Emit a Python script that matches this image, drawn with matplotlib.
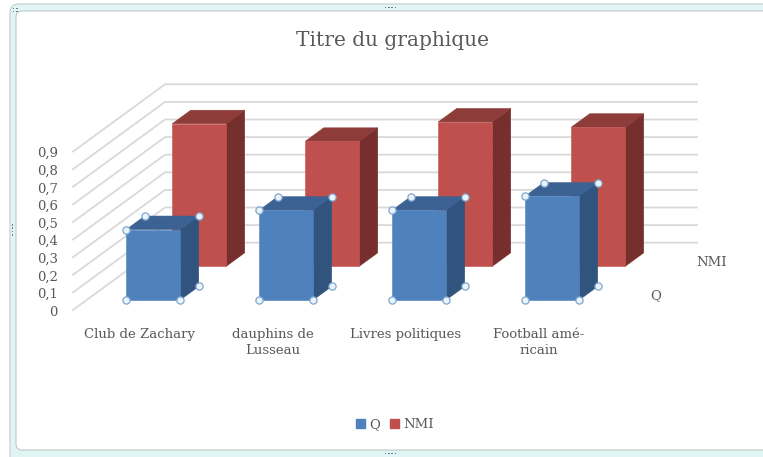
import matplotlib.pyplot as plt
from matplotlib.patches import Polygon, FancyBboxPatch, Patch

# Data
categories = ['Club de Zachary', 'dauphins de\nLusseau', 'Livres politiques', 'Football amé-\nricain']
series_names = ['Q', 'NMI']
q_values = [0.40, 0.51, 0.51, 0.59]
nmi_values = [0.81, 0.71, 0.82, 0.79]
yticks = [0.0, 0.1, 0.2, 0.3, 0.4, 0.5, 0.6, 0.7, 0.8, 0.9]

# Colours (front, top, side)
blue = ('#4F81BD', '#3B6292', '#30547E')
red = ('#C0504D', '#8E3C39', '#772F2D')
text_col = '#595959'
grid_col = '#D9D9D9'

W, H = 763, 457
fig = plt.figure(figsize=(W / 100, H / 100), dpi=100)

# Selection frame around the chart area (pixel coordinates)
bg = fig.add_axes([0, 0, 1, 1])
bg.set_xlim(0, W)
bg.set_ylim(H, 0)
bg.axis('off')
bg.add_patch(FancyBboxPatch((10, 4), 800, 500, boxstyle='round,pad=0,rounding_size=9',
                            facecolor='#E2F5F5', edgecolor='#C4CCCC', lw=0.8))
bg.add_patch(FancyBboxPatch((16, 11), 800, 439, boxstyle='round,pad=0,rounding_size=6',
                            facecolor='white', edgecolor='#BFC8C8', lw=0.8))
for k in range(4):
    bg.add_patch(plt.Rectangle((384.5 + 3.4 * k, 6.5), 1.6, 1.6, color='#6E7C88', lw=0))
    bg.add_patch(plt.Rectangle((384.5 + 3.4 * k, 452.5), 1.6, 1.6, color='#6E7C88', lw=0))
    bg.add_patch(plt.Rectangle((11.8, 224 + 3.4 * k), 1.6, 1.6, color='#6E7C88', lw=0))
for dx in (0, 3.4):
    for dy in (0, 3.4):
        bg.add_patch(plt.Rectangle((12.5 + dx, 7.5 + dy), 1.6, 1.6, color='#6E7C88', lw=0))

# Chart axes: x in category units, y in value units on the front plane
X0, CAT, Y0, VS = 73, 133, 310, 176
ax = fig.add_axes([0, 0, 1, 1], zorder=1)
ax.patch.set_alpha(0)
ax.set_xlim(-X0 / CAT - 0.5, (W - X0) / CAT - 0.5)
ax.set_ylim((Y0 - H) / VS, Y0 / VS)
ax.axis('off')

# oblique depth shift for the full depth of the floor
DX, DY = 92 / CAT, 67.3 / VS
n = len(categories)
left, right = -0.5, n - 0.5


def proj(x, v, f):
    return (x + f * DX, v + f * DY)


# side wall and back wall gridlines
for t in yticks:
    a, b, c = proj(left, t, 0), proj(left, t, 1), proj(right, t, 1)
    ax.plot([a[0], b[0], c[0]], [a[1], b[1], c[1]], color=grid_col, lw=1.3, zorder=1)
    ax.text(left - 0.113, t - 0.012, f'{t:.1f}'.replace('.', ',') if t else '0',
            ha='right', va='center', fontsize=9.5, color=text_col, family='DejaVu Serif')

half = 0.203
depth = 0.2
for s, (vals, cols) in enumerate([(nmi_values, red), (q_values, blue)]):
    row = 1 - s  # NMI sits in the back row
    f0 = 0.15 + 0.5 * row
    f1 = f0 + depth
    for i, v in enumerate(vals):
        front = [proj(i - half, 0, f0), proj(i + half, 0, f0), proj(i + half, v, f0), proj(i - half, v, f0)]
        top = [proj(i - half, v, f0), proj(i + half, v, f0), proj(i + half, v, f1), proj(i - half, v, f1)]
        side = [proj(i + half, 0, f0), proj(i + half, v, f0), proj(i + half, v, f1), proj(i + half, 0, f1)]
        for poly, c in ((side, cols[2]), (top, cols[1]), (front, cols[0])):
            ax.add_patch(Polygon(poly, closed=True, facecolor=c, edgecolor=c, lw=0.4, zorder=3 + s))
        if row == 0:
            # selection handles on the Q series
            pts = [proj(i - half, v, f0), proj(i - half, v, f1), proj(i + half, v, f1),
                   proj(i + half, 0, f1), proj(i - half, 0, f0), proj(i + half, 0, f0)]
            ax.plot([p[0] for p in pts], [p[1] for p in pts], 'o', ls='none', ms=5.2,
                    mfc='#EAF2FA', mec='#7EA6CE', mew=0.9, zorder=6)

# series labels on the depth axis
for row, name in enumerate(series_names):
    fx, fy = proj(right, 0, 0.25 + 0.5 * row)
    ax.text(fx + 0.17, fy - 0.015, name, ha='left', va='center', fontsize=9.5,
            color=text_col, family='DejaVu Serif')

# category labels
for i, lab in enumerate(categories):
    ax.text(i, -0.105, lab, ha='center', va='top', fontsize=9.5, color=text_col,
            family='DejaVu Serif', linespacing=1.25)

fig.text(392 / W, 1 - 40 / H, 'Titre du graphique', ha='center', va='center',
         fontsize=14.5, color=text_col, family='DejaVu Serif')

leg = ax.legend(handles=[Patch(color=blue[0], label='Q'), Patch(color=red[0], label='NMI')],
                loc='center', bbox_to_anchor=(395 / W, 1 - 425 / H), bbox_transform=fig.transFigure,
                ncol=2, frameon=False, handlelength=0.65, handleheight=0.65, handletextpad=0.3,
                columnspacing=0.8, prop={'family': 'DejaVu Serif', 'size': 9.5})
for t in leg.get_texts():
    t.set_color(text_col)

fig.savefig('out.png', dpi=100)
